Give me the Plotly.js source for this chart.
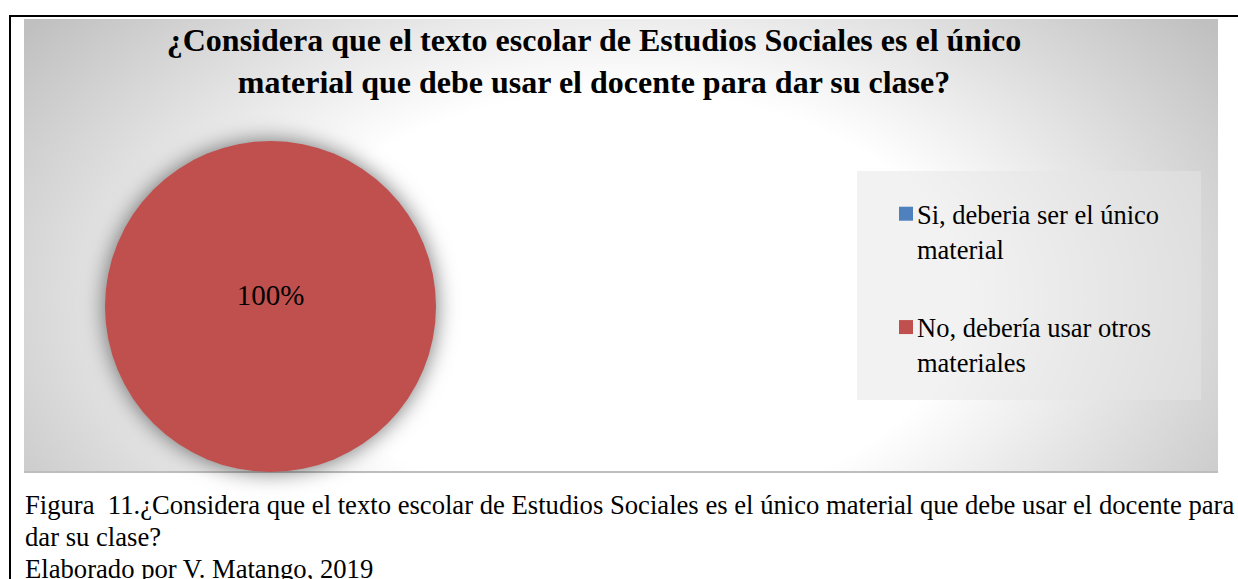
<!DOCTYPE html>
<html>
<head>
<meta charset="utf-8">
<script src="https://cdn.plot.ly/plotly-3.0.1.min.js"></script>
<style>
  html, body { margin: 0; padding: 0; background: #ffffff; width: 1238px; height: 579px; overflow: hidden; }
  #frame { position: absolute; left: 9px; top: 15px; width: 1240px; height: 580px;
           border-top: 2px solid #000; border-left: 2px solid #000; box-sizing: border-box; }
  #bg { position: absolute; left: 24px; top: 19px; width: 1194px; height: 454px;
        background: radial-gradient(ellipse 62% 100% at 50% 62%, #ffffff 0%, #ffffff 46%, #c0c0c0 100%);
        border-bottom: 2px solid #bdbdbd; box-sizing: border-box; }
  #chart { position: absolute; left: 0; top: 0; width: 1238px; height: 579px; }
  #caption { position: absolute; left: 25px; top: 489px; font-family: "Liberation Serif", "Times New Roman", serif;
             font-size: 26.65px; line-height: 32px; color: #000; white-space: pre; }
  .pielayer .slice path.surface { filter: drop-shadow(0 0 11px rgba(0,0,0,0.55)); }
</style>
</head>
<body>
<div id="frame"></div>
<div id="bg"></div>
<div id="chart"></div>
<div id="caption"></div>
<script>
// ---- data ----
const categories = ["Si, deberia ser el único material", "No, debería usar otros materiales"];
const legendLabels = ["Si, deberia ser el único<br>material<br> ", "No, debería usar otros<br>materiales"];
const values = [0, 100];
const sliceColors = ["#4F81BD", "#C0504D"];
const titleLines = ["¿Considera que el texto escolar de Estudios Sociales es el único", "material que debe usar el docente para dar su clase?"];
const captionLines = ["Figura  11.¿Considera que el texto escolar de Estudios Sociales es el único material que debe usar el docente para", "dar su clase?", "Elaborado por V. Matango, 2019"];

const serif = '"Liberation Serif", "Times New Roman", serif';
const W = 1238, H = 579;
const px = v => v / W;
const py = v => 1 - v / H;

document.getElementById('caption').textContent = captionLines.join('\n');

const trace = {
  type: 'pie',
  labels: legendLabels,
  values: values,
  customdata: categories,
  marker: { colors: sliceColors, line: { width: 0 } },
  sort: false,
  direction: 'clockwise',
  textinfo: 'percent',
  texttemplate: values.map(v => v > 0 ? '%{percent:.0%}' : ''),
  textposition: 'inside',
  insidetextfont: { family: serif, size: 29, color: '#000000' },
  hoverinfo: 'skip',
  domain: { x: [px(105), px(436)], y: [py(472), py(141)] }
};

const layout = {
  width: W, height: H,
  margin: { l: 0, r: 0, t: 0, b: 0 },
  paper_bgcolor: 'rgba(0,0,0,0)',
  plot_bgcolor: 'rgba(0,0,0,0)',
  title: {
    text: '<b>' + titleLines.join('<br>') + '</b>',
    font: { family: serif, size: 32, color: '#000000' },
    x: px(594), xanchor: 'center', xref: 'paper',
    y: py(51), yanchor: 'top', yref: 'container'
  },
  showlegend: true,
  legend: {
    x: px(877), xanchor: 'left', xref: 'paper',
    y: py(190), yanchor: 'top', yref: 'paper',
    bgcolor: 'rgba(0,0,0,0)',
    font: { family: serif, size: 26.5, color: '#000000' },
    valign: 'top',
    traceorder: 'normal'
  },
  shapes: [{
    type: 'rect', xref: 'paper', yref: 'paper', layer: 'below',
    x0: px(857), x1: px(1201), y0: py(400), y1: py(171),
    fillcolor: 'rgba(230,230,230,0.5)', line: { width: 0 }
  }]
};

Plotly.newPlot('chart', [trace], layout, { staticPlot: true, displayModeBar: false }).then(gd => {
  gd.querySelectorAll('.pielayer .slicetext').forEach(t => {
    const tr = t.getAttribute('transform') || '';
    t.setAttribute('transform', 'translate(0,-6) ' + tr);
  });
  const items = gd.querySelectorAll('.legend .traces');
  items.forEach((g, i) => {
    const p = g.querySelector('.legendpoints path');
    const t = g.querySelector('.legendtext');
    if (!p || !t) return;
    const bb = p.getBBox();
    const cx = bb.x + bb.width / 2, cy = bb.y + bb.height / 2;
    const s = 14 / bb.width;
    const base = p.getAttribute('transform') || '';
    p.setAttribute('transform', base + ' translate(' + cx + ',' + cy + ') scale(' + s + ') translate(' + (-cx) + ',' + (-cy) + ')');
    const pr = p.getBoundingClientRect(), trc = t.getBoundingClientRect();
    const dx = (trc.left - 4) - pr.right;
    p.setAttribute('transform', 'translate(' + dx + ',0) ' + p.getAttribute('transform'));
    if (i === 1) {
      g.setAttribute('transform', 'translate(0,7) ' + (g.getAttribute('transform') || ''));
    }
  });
});
</script>
</body>
</html>
